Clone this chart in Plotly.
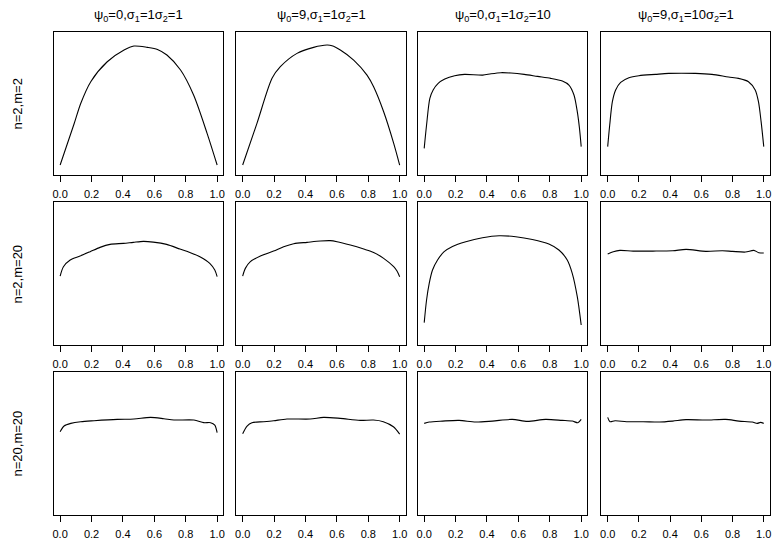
import plotly.graph_objects as go

# Column and row headings
col_titles = [
    "ψ<sub>0</sub>=0,σ<sub>1</sub>=1σ<sub>2</sub>=1",
    "ψ<sub>0</sub>=9,σ<sub>1</sub>=1σ<sub>2</sub>=1",
    "ψ<sub>0</sub>=0,σ<sub>1</sub>=1σ<sub>2</sub>=10",
    "ψ<sub>0</sub>=9,σ<sub>1</sub>=10σ<sub>2</sub>=1",
]
row_titles = ["n=2,m=2", "n=2,m=20", "n=20,m=20"]

tick_vals = [0.0, 0.2, 0.4, 0.6, 0.8, 1.0]
tick_text = ["0.0", "0.2", "0.4", "0.6", "0.8", "1.0"]

# Estimated densities on [0, 1] for each panel
# Row 1: n=2, m=2
x_r1c1 = [0.0, 0.089, 0.131, 0.195, 0.30, 0.407, 0.47, 0.555, 0.62, 0.68, 0.767, 0.85, 0.936, 1.0]
d_r1c1 = [0.053, 0.52, 0.75, 0.997, 1.223, 1.356, 1.401, 1.386, 1.363, 1.299, 1.129, 0.846, 0.412, 0.053]

x_r1c2 = [0.0, 0.091, 0.187, 0.24, 0.346, 0.452, 0.537, 0.569, 0.622, 0.707, 0.792, 0.834, 0.898, 0.962, 1.0]
d_r1c2 = [0.053, 0.525, 1.035, 1.167, 1.318, 1.386, 1.412, 1.405, 1.356, 1.242, 1.072, 0.94, 0.657, 0.299, 0.053]

x_r1c3 = [0.0, 0.015, 0.036, 0.057, 0.089, 0.131, 0.194, 0.257, 0.373, 0.426, 0.489, 0.553,
          0.637, 0.722, 0.806, 0.88, 0.922, 0.954, 0.975, 0.989, 1.0]
d_r1c3 = [0.242, 0.506, 0.808, 0.903, 0.978, 1.027, 1.065, 1.08, 1.072, 1.087, 1.099, 1.095,
          1.08, 1.057, 1.035, 1.004, 0.959, 0.846, 0.657, 0.469, 0.261]

x_r1c4 = [0.0, 0.013, 0.03, 0.051, 0.083, 0.136, 0.2, 0.306, 0.391, 0.562, 0.668, 0.774,
          0.838, 0.902, 0.945, 0.966, 0.983, 1.0]
d_r1c4 = [0.261, 0.506, 0.77, 0.903, 0.989, 1.042, 1.065, 1.08, 1.091, 1.091, 1.08, 1.05,
          1.035, 0.997, 0.903, 0.77, 0.544, 0.261]

# Row 2: n=2, m=20
x_r2c1 = [0.0, 0.021, 0.064, 0.127, 0.191, 0.254, 0.318, 0.403, 0.466, 0.53, 0.593, 0.678,
          0.763, 0.826, 0.89, 0.953, 0.985, 1.0]
d_r2c1 = [0.721, 0.827, 0.903, 0.948, 0.997, 1.046, 1.08, 1.091, 1.103, 1.114, 1.106, 1.08,
          1.027, 0.989, 0.94, 0.865, 0.789, 0.714]

x_r2c2 = [0.0, 0.017, 0.049, 0.113, 0.197, 0.261, 0.325, 0.41, 0.495, 0.558, 0.601, 0.686,
          0.771, 0.834, 0.898, 0.962, 0.983, 1.0]
d_r2c2 = [0.721, 0.808, 0.884, 0.948, 1.004, 1.053, 1.087, 1.103, 1.118, 1.122, 1.11, 1.072,
          1.027, 0.989, 0.921, 0.827, 0.778, 0.714]

x_r2c3 = [0.0, 0.015, 0.032, 0.053, 0.085, 0.127, 0.18, 0.265, 0.371, 0.477, 0.583, 0.689,
          0.794, 0.858, 0.911, 0.943, 0.975, 1.0]
d_r2c3 = [0.193, 0.45, 0.639, 0.789, 0.903, 0.997, 1.057, 1.11, 1.155, 1.178, 1.167, 1.136,
          1.084, 1.016, 0.903, 0.752, 0.487, 0.166]

x_r2c4 = [0.0, 0.036, 0.078, 0.163, 0.29, 0.417, 0.502, 0.629, 0.735, 0.799, 0.883, 0.936, 0.968, 1.0]
d_r2c4 = [0.971, 0.997, 1.012, 1.004, 1.004, 1.008, 1.023, 1.001, 1.008, 1.001, 0.993, 1.012, 0.986, 0.982]

# Row 3: n=20, m=20
x_r3c1 = [0.0, 0.025, 0.068, 0.131, 0.216, 0.364, 0.47, 0.576, 0.661, 0.725, 0.852, 0.915, 0.958, 0.985, 1.0]
d_r3c1 = [0.884, 0.948, 0.978, 0.997, 1.008, 1.023, 1.027, 1.046, 1.031, 1.016, 1.016, 0.986, 0.986, 0.959, 0.872]

x_r3c2 = [0.0, 0.028, 0.059, 0.133, 0.197, 0.282, 0.43, 0.515, 0.621, 0.748, 0.833, 0.896, 0.96, 1.0]
d_r3c2 = [0.861, 0.948, 0.986, 0.997, 1.008, 1.027, 1.027, 1.046, 1.035, 1.012, 1.016, 0.997, 0.94, 0.857]

x_r3c3 = [0.0, 0.032, 0.117, 0.222, 0.328, 0.434, 0.561, 0.657, 0.773, 0.879, 0.943, 0.979, 1.0]
d_r3c3 = [0.978, 0.993, 1.004, 1.012, 0.993, 1.004, 1.023, 1.001, 1.023, 1.012, 1.004, 0.986, 1.023]

x_r3c4 = [0.0, 0.015, 0.047, 0.121, 0.227, 0.333, 0.417, 0.502, 0.629, 0.756, 0.841, 0.926, 0.958, 0.979, 1.0]
d_r3c4 = [1.046, 0.997, 1.008, 0.997, 0.997, 0.993, 1.004, 1.02, 1.016, 1.023, 1.004, 0.993, 0.978, 0.989, 0.978]

panels = [
    [(x_r1c1, d_r1c1), (x_r1c2, d_r1c2), (x_r1c3, d_r1c3), (x_r1c4, d_r1c4)],
    [(x_r2c1, d_r2c1), (x_r2c2, d_r2c2), (x_r2c3, d_r2c3), (x_r2c4, d_r2c4)],
    [(x_r3c1, d_r3c1), (x_r3c2, d_r3c2), (x_r3c3, d_r3c3), (x_r3c4, d_r3c4)],
]

W, H = 774, 541
col_px = [(53, 223), (236, 406), (418, 588), (602, 771)]
row_px = [(32, 175), (202, 345), (372, 515)]
FONT = "Liberation Sans, Arial, Helvetica, sans-serif"

fig = go.Figure()
layout = dict(
    width=W, height=H,
    margin=dict(l=0, r=0, t=0, b=0),
    paper_bgcolor="white", plot_bgcolor="white",
    showlegend=False,
    font=dict(family=FONT, color="black"),
)

annotations = []
k = 0
for r in range(3):
    for c in range(4):
        k += 1
        xs, ds = panels[r][c]
        xa = "x" if k == 1 else f"x{k}"
        ya = "y" if k == 1 else f"y{k}"
        fig.add_trace(go.Scatter(
            x=xs, y=ds, mode="lines",
            line=dict(color="black", width=1.1, shape="spline", smoothing=0.8),
            xaxis=xa, yaxis=ya, hoverinfo="skip",
        ))
        x0, x1 = col_px[c]
        y0, y1 = row_px[r]
        layout["xaxis" if k == 1 else f"xaxis{k}"] = dict(
            domain=[x0 / W, x1 / W], anchor=ya, range=[-0.04, 1.04],
            showgrid=False, zeroline=False, showline=True, mirror=True,
            linecolor="black", linewidth=1,
            ticks="outside", ticklen=6, tickwidth=1, tickcolor="black",
            tickvals=tick_vals, ticktext=tick_text,
            tickfont=dict(size=11, family=FONT, color="black"),
            ticklabelstandoff=3,
        )
        layout["yaxis" if k == 1 else f"yaxis{k}"] = dict(
            domain=[1 - y1 / H, 1 - y0 / H], anchor=xa, range=[-0.06, 1.56],
            showgrid=False, zeroline=False, showline=True, mirror=True,
            linecolor="black", linewidth=1,
            showticklabels=False, ticks="",
        )

for c, t in enumerate(col_titles):
    x0, x1 = col_px[c]
    annotations.append(dict(
        text=t, x=(x0 + x1) / 2 / W, y=1 - 15 / H, xref="paper", yref="paper",
        showarrow=False, xanchor="center", yanchor="middle",
        font=dict(size=13, family=FONT, color="black"),
    ))
for r, t in enumerate(row_titles):
    y0, y1 = row_px[r]
    annotations.append(dict(
        text=t, x=17 / W, y=1 - (y0 + y1) / 2 / H, xref="paper", yref="paper",
        showarrow=False, xanchor="center", yanchor="middle", textangle=-90,
        font=dict(size=13, family=FONT, color="black"),
    ))
layout["annotations"] = annotations

fig.update_layout(**layout)
fig.write_html("out.html")
